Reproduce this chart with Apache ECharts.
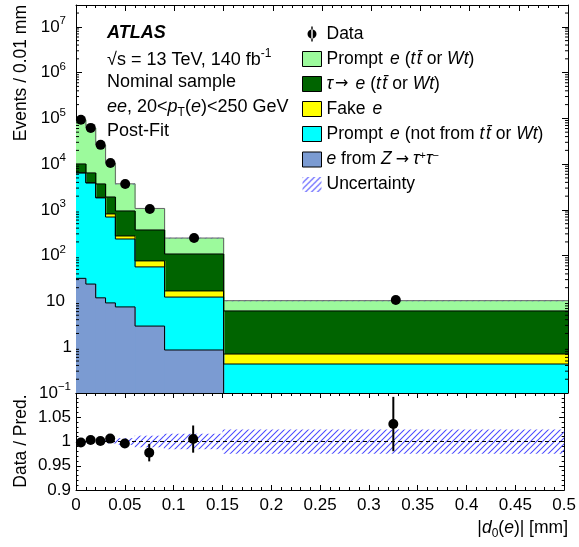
<!DOCTYPE html>
<html><head><meta charset="utf-8">
<script src="https://cdn.jsdelivr.net/npm/echarts@6/dist/echarts.min.js"></script>
<style>html,body{margin:0;padding:0;background:#fff}#c{width:579px;height:547px}</style>
</head><body><div id="c"></div>
<script>
// ---------------- data ----------------
const binEdges    = [0, 0.01, 0.02, 0.03, 0.04, 0.06, 0.09, 0.15, 0.5];
const zTauTau     = [32, 24, 12, 9.3, 7.6, 2.9, 0.87, 0.06];
const promptOther = [6400, 3866, 1818, 690, 224, 54, 11.6, 0.37];
const fakeE       = [30, 30, 50, 118, 38, 20, 4.5, 0.28];
const tauToE      = [3640, 2520, 1820, 1100, 680, 288, 92, 5.5];
const promptTT    = [82900, 55360, 22600, 8630, 2770, 712, 134, 4.2];
const dataEvents  = [93000, 62000, 26400, 10600, 3700, 1050, 244, 10.8];
const ratioVals   = [0.998, 1.003, 1.001, 1.006, 0.996, 0.977, 1.005, 1.036];
const ratioErrs   = [0.003, 0.003, 0.003, 0.003, 0.008, 0.018, 0.028, 0.056];
const uncRel      = [0.003, 0.003, 0.003, 0.004, 0.007, 0.012, 0.016, 0.025];
const logMinorMult = [2, 3, 4, 5, 6, 7, 8, 9];
const logDecades   = [-1, 0, 1, 2, 3, 4, 5, 6, 7];

const Y_MIN = 0.1, Y_MAX = 3e7;
const FONT = '"Liberation Sans", Arial, Helvetica, sans-serif';

// ---------------- helpers ----------------
const centers = binEdges.slice(0, -1).map((e, i) => (e + binEdges[i + 1]) / 2);
const layersBottomUp = [zTauTau, promptOther, fakeE, tauToE, promptTT];
const cum = [];
layersBottomUp.forEach((arr, k) => {
  cum.push(arr.map((v, i) => v + (k > 0 ? cum[k - 1][i] : 0)));
});
const total = cum[cum.length - 1];
const lastBin = binEdges.length - 2;

function makeHatch() {
  const s = 6;
  const c = document.createElement('canvas'); c.width = s; c.height = s;
  const g = c.getContext('2d');
  g.strokeStyle = '#4a4aff'; g.lineWidth = 1.05;
  g.beginPath();
  g.moveTo(0, s); g.lineTo(s, 0);
  g.moveTo(-s, s); g.lineTo(s, -s);
  g.moveTo(0, 2 * s); g.lineTo(2 * s, 0);
  g.stroke();
  return c;
}
const hatch = { image: makeHatch(), repeat: 'repeat' };

function stackSeries(name, k, color, line) {
  const arr = cum[k];
  return {
    type: 'custom', name, xAxisIndex: 0, yAxisIndex: 0, clip: true, silent: true,
    itemStyle: { color, borderColor: '#000', borderWidth: 1 },
    encode: { x: [0, 1], y: 2 },
    data: arr.map((v, i) => [binEdges[i], binEdges[i + 1], v, i > 0 ? arr[i - 1] : null, i]),
    renderItem(params, api) {
      const x0 = api.value(0), x1 = api.value(1), top = api.value(2), prev = api.value(3), idx = api.value(4);
      const a = api.coord([x0, top]), b = api.coord([x1, top]);
      const base = api.coord([x0, Y_MIN])[1];
      const kids = [];
      const extra = idx < lastBin ? 0.7 : 0;
      if (a[1] < base) kids.push({ type: 'rect', shape: { x: a[0], y: a[1], width: b[0] - a[0] + extra, height: base - a[1] }, style: { fill: color } });
      const pts = [];
      if (!isNaN(prev) && prev > 0) pts.push(api.coord([x0, prev]));
      pts.push(a, b);
      kids.push({ type: 'polyline', z2: 5, shape: { points: pts }, style: { stroke: line, lineWidth: 1, fill: null } });
      return { type: 'group', children: kids };
    }
  };
}

const C = { promptTT: '#9cfa9c', tau: '#006400', fake: '#ffff00', other: '#00ffff', z: '#7b9bd2' };
const N = {
  data: 'Data',
  promptTT: 'Prompt e (tt̄ or Wt)',
  tau: 'τ→ e (tt̄ or Wt)',
  fake: 'Fake e',
  other: 'Prompt e (not from tt̄ or Wt)',
  z: 'e from Z → τ⁺τ⁻',
  unc: 'Uncertainty'
};
const TT = '{i|t}{tb|t̄}';
const legendRich = {
  [N.data]: '{n|Data}',
  [N.promptTT]: '{n|Prompt}{e|e}{n|(}' + TT + '{n|or }{i|Wt}{n|)}',
  [N.tau]: '{i|τ}{arr|→}{e|e}{n|(}' + TT + '{n|or }{i|Wt}{n|)}',
  [N.fake]: '{n|Fake}{e|e}',
  [N.other]: '{n|Prompt}{e|e}{n|(not from }' + TT + '{n|or }{i|Wt}{n|)}',
  [N.z]: '{e0|e}{n| from }{i|Z}{arrz|→}{i|τ}{sup|+}{i|τ}{sup|−}',
  [N.unc]: '{n|Uncertainty}'
};
const LFS = 17.5;
const richBase = {
  n: { fontFamily: FONT, fontSize: LFS, color: '#000' },
  i: { fontFamily: FONT, fontSize: LFS, fontStyle: 'italic', color: '#000' },
  e: { fontFamily: FONT, fontSize: LFS, fontStyle: 'italic', color: '#000', padding: [0, 5, 0, 7] },
  e0: { fontFamily: FONT, fontSize: LFS, fontStyle: 'italic', color: '#000' },
  tb: { fontFamily: FONT, fontSize: LFS, fontStyle: 'italic', color: '#000', padding: [0, 5, 0, 1.5] },
  arr: { fontFamily: '"DejaVu Sans", sans-serif', fontSize: 16, color: '#000', padding: [0, 0, 0, 2] },
  arrz: { fontFamily: '"DejaVu Sans", sans-serif', fontSize: 16, color: '#000', padding: [0, 4, 0, 4] },
  sup: { fontFamily: FONT, fontSize: 11, color: '#000', padding: [0, 0, 8, 0] }
};

const dataIcon = 'path://M0,0h0.01v0.01h-0.01Z M18.99,14.99h0.01v0.01h-0.01Z M8.8,0h1.4v15h-1.4Z M9.5,3a4.5,4.5 0 1,0 0.001,0Z';

function minorTickSeries(xIdx, yIdx) {
  const vals = [];
  logDecades.forEach(d => logMinorMult.forEach(m => { const v = m * Math.pow(10, d); if (v < Y_MAX) vals.push([0, v]); }));
  return {
    type: 'custom', xAxisIndex: xIdx, yAxisIndex: yIdx, silent: true, clip: false, z: 5,
    data: vals, encode: { x: 0, y: 1 },
    renderItem(params, api) {
      const p = api.coord([0, api.value(1)]);
      const r = api.coord([0.5, api.value(1)]);
      return { type: 'group', children: [
        { type: 'line', shape: { x1: p[0], y1: p[1], x2: p[0] + 3, y2: p[1] }, style: { stroke: '#000', lineWidth: 1 } },
        { type: 'line', shape: { x1: r[0], y1: r[1], x2: r[0] - 3, y2: r[1] }, style: { stroke: '#000', lineWidth: 1 } }
      ] };
    }
  };
}

function logLabel(v) {
  const l = Math.log10(v);
  const e = Math.round(l);
  if (Math.abs(l - e) > 0.01) return '';
  if (e === 0) return '{one|1}';
  if (e === 1) return '{ten|10}';
  if (e < 0) return '{b|10}{sneg|−' + (-e) + '}';
  return '{b|10}{s|' + e + '}';
}

const axLine = { show: true, onZero: false, lineStyle: { color: '#000', width: 1 } };
function xAx(grid, pos, labels) {
  return {
    type: 'value', gridIndex: grid, position: pos, min: 0, max: 0.5, interval: 0.05,
    axisLine: axLine,
    axisTick: { show: true, inside: true, length: grid === 0 ? 6 : 5, lineStyle: { color: '#000' } },
    minorTick: { show: true, splitNumber: 5, length: 3, lineStyle: { color: '#000' } },
    splitLine: { show: false }, minorSplitLine: { show: false },
    axisLabel: labels ? { show: true, fontFamily: FONT, fontSize: 17, color: '#000', margin: 7,
      formatter: v => String(+v.toFixed(2)) } : { show: false }
  };
}

const option = {
  animation: false,
  textStyle: { fontFamily: FONT },
  grid: [
    { left: 76, top: 5, width: 492, height: 388 },
    { left: 76, top: 393, width: 492, height: 97 }
  ],
  xAxis: [xAx(0, 'bottom', false), xAx(0, 'top', false), xAx(1, 'bottom', true), xAx(1, 'top', false)],
  yAxis: [
    { type: 'log', gridIndex: 0, position: 'left', min: Y_MIN, max: Y_MAX, logBase: 10, splitNumber: 8,
      axisLine: axLine, axisTick: { show: true, inside: true, length: 6, lineStyle: { color: '#000' } },
      splitLine: { show: false },
      axisLabel: { show: true, margin: 4, formatter: logLabel, color: '#000',
        rich: {
          b: { fontFamily: FONT, fontSize: 17, color: '#000' },
          s: { fontFamily: FONT, fontSize: 11.5, color: '#000', padding: [0, 6, 12, 0] },
          sneg: { fontFamily: FONT, fontSize: 11.5, color: '#000', padding: [0, 1, 12, 0] },
          one: { fontFamily: FONT, fontSize: 17, color: '#000' },
          ten: { fontFamily: FONT, fontSize: 17, color: '#000', padding: [0, 7, 0, 0] }
        } } },
    { type: 'log', gridIndex: 0, position: 'right', min: Y_MIN, max: Y_MAX, logBase: 10, splitNumber: 8,
      axisLine: axLine, axisTick: { show: true, inside: true, length: 6, lineStyle: { color: '#000' } },
      splitLine: { show: false }, axisLabel: { show: false } },
    { type: 'value', gridIndex: 1, position: 'left', min: 0.9, max: 1.1, interval: 0.05,
      axisLine: axLine, axisTick: { show: true, inside: true, length: 5, lineStyle: { color: '#000' } },
      minorTick: { show: true, splitNumber: 5, length: 2.5, lineStyle: { color: '#000' } },
      splitLine: { show: false },
      axisLabel: { show: true, margin: 5, fontFamily: FONT, fontSize: 17, color: '#000',
        formatter: v => (v > 1.09 ? '' : String(+v.toFixed(2))) } },
    { type: 'value', gridIndex: 1, position: 'right', min: 0.9, max: 1.1, interval: 0.05,
      axisLine: axLine, axisTick: { show: true, inside: true, length: 5, lineStyle: { color: '#000' } },
      minorTick: { show: true, splitNumber: 5, length: 2.5, lineStyle: { color: '#000' } },
      splitLine: { show: false }, axisLabel: { show: false } }
  ],
  legend: {
    orient: 'vertical', left: 302, top: 25, itemWidth: 19, itemHeight: 15, itemGap: 7, itemTextGap: 5,
    selectedMode: false, padding: 0,
    textStyle: { fontFamily: FONT, fontSize: LFS, color: '#000', rich: richBase },
    formatter: name => legendRich[name] || name,
    data: [
      { name: N.data, icon: dataIcon, itemStyle: { color: '#000', borderWidth: 0, opacity: 1 } },
      { name: N.promptTT, icon: 'rect', itemStyle: { color: C.promptTT, borderColor: '#000', borderWidth: 1 } },
      { name: N.tau, icon: 'rect', itemStyle: { color: C.tau, borderColor: '#000', borderWidth: 1 } },
      { name: N.fake, icon: 'rect', itemStyle: { color: C.fake, borderColor: '#000', borderWidth: 1 } },
      { name: N.other, icon: 'rect', itemStyle: { color: C.other, borderColor: '#000', borderWidth: 1 } },
      { name: N.z, icon: 'rect', itemStyle: { color: C.z, borderColor: '#000', borderWidth: 1 } },
      { name: N.unc, icon: 'rect', itemStyle: { color: hatch, borderWidth: 0 } }
    ]
  },
  graphic: [
    { type: 'text', x: 107, y: 33, style: { text: 'ATLAS', font: 'italic bold 18px ' + FONT, fill: '#000', align: 'left', verticalAlign: 'middle' } },
    { type: 'text', x: 107, y: 60, style: { text: '{n|√s = 13 TeV, 140 fb}{sup|-1}', fill: '#000', align: 'left', verticalAlign: 'middle',
      rich: { n: { fontFamily: FONT, fontSize: 18, lineHeight: 18 }, sup: { fontFamily: FONT, fontSize: 12, lineHeight: 18, padding: [0, 0, 12, 0] } } } },
    { type: 'text', x: 107, y: 82, style: { text: 'Nominal sample', font: '18px ' + FONT, fill: '#000', align: 'left', verticalAlign: 'middle' } },
    { type: 'text', x: 107, y: 107, style: { text: '{i|ee}{n|, 20<}{i|p}{sub|T}{n|(}{i|e}{n|)<250 GeV}', fill: '#000', align: 'left', verticalAlign: 'middle',
      rich: { n: { fontFamily: FONT, fontSize: 18, lineHeight: 18 }, i: { fontFamily: FONT, fontSize: 18, fontStyle: 'italic', lineHeight: 18 },
        sub: { fontFamily: FONT, fontSize: 12, lineHeight: 18, padding: [12, 0, 0, 0] } } } },
    { type: 'text', x: 107, y: 131, style: { text: 'Post-Fit', font: '18px ' + FONT, fill: '#000', align: 'left', verticalAlign: 'middle' } },
    { type: 'text', x: 21, y: 5, rotation: Math.PI / 2, style: { text: 'Events / 0.01 mm', font: '17.5px ' + FONT, fill: '#000', align: 'right', verticalAlign: 'middle' } },
    { type: 'text', x: 21, y: 441, rotation: Math.PI / 2, style: { text: 'Data / Pred.', font: '17.5px ' + FONT, fill: '#000', align: 'center', verticalAlign: 'middle' } },
    { type: 'text', x: 568, y: 528, style: { text: '{n||}{i|d}{sub|0}{n|(}{i|e}{n|)| [mm]}', fill: '#000', align: 'right', verticalAlign: 'middle',
      rich: { n: { fontFamily: FONT, fontSize: 17.5, lineHeight: 18 }, i: { fontFamily: FONT, fontSize: 17.5, fontStyle: 'italic', lineHeight: 18 },
        sub: { fontFamily: FONT, fontSize: 12, lineHeight: 18, padding: [12, 0, 0, 0] } } } }
  ],
  series: [
    stackSeries(N.promptTT, 4, C.promptTT, '#666'),
    stackSeries(N.tau, 3, C.tau, '#000'),
    stackSeries(N.fake, 2, C.fake, '#000'),
    stackSeries(N.other, 1, C.other, '#000'),
    stackSeries(N.z, 0, C.z, '#000'),
    minorTickSeries(0, 0),
    {
      type: 'custom', name: N.unc, xAxisIndex: 0, yAxisIndex: 0, clip: true, silent: true,
      itemStyle: { color: hatch },
      encode: { x: [0, 1], y: [2, 3] },
      data: total.map((t, i) => [binEdges[i], binEdges[i + 1], t * (1 - uncRel[i]), t * (1 + uncRel[i])]),
      renderItem(params, api) {
        const a = api.coord([api.value(0), api.value(3)]), b = api.coord([api.value(1), api.value(2)]);
        return { type: 'rect', shape: { x: a[0], y: a[1], width: b[0] - a[0], height: Math.max(b[1] - a[1], 0.8) }, style: { fill: hatch } };
      }
    },
    {
      type: 'scatter', name: N.data, xAxisIndex: 0, yAxisIndex: 0, symbol: 'circle', symbolSize: 10,
      itemStyle: { color: '#000', opacity: 1 }, silent: true,
      data: centers.map((c, i) => [c, dataEvents[i]])
    },
    {
      type: 'custom', name: N.unc, xAxisIndex: 2, yAxisIndex: 2, clip: true, silent: true,
      itemStyle: { color: hatch },
      encode: { x: [0, 1], y: [2, 3] },
      data: uncRel.map((u, i) => [binEdges[i], binEdges[i + 1], 1 - u, 1 + u]),
      renderItem(params, api) {
        const a = api.coord([api.value(0), api.value(3)]), b = api.coord([api.value(1), api.value(2)]);
        return { type: 'rect', shape: { x: a[0], y: a[1], width: b[0] - a[0], height: b[1] - a[1] }, style: { fill: hatch } };
      },
      markLine: { silent: true, symbol: 'none', label: { show: false },
        lineStyle: { color: '#000', type: [4, 3], width: 1.2 },
        data: [{ yAxis: 1 }] }
    },
    {
      type: 'custom', xAxisIndex: 2, yAxisIndex: 2, clip: true, silent: true,
      encode: { x: 0, y: [1, 2] },
      data: centers.map((c, i) => [c, ratioVals[i] - ratioErrs[i], ratioVals[i] + ratioErrs[i]]),
      renderItem(params, api) {
        const a = api.coord([api.value(0), api.value(1)]), b = api.coord([api.value(0), api.value(2)]);
        return { type: 'line', shape: { x1: a[0], y1: a[1], x2: b[0], y2: b[1] }, style: { stroke: '#000', lineWidth: 2 } };
      }
    },
    {
      type: 'scatter', xAxisIndex: 2, yAxisIndex: 2, symbol: 'circle', symbolSize: 10, silent: true,
      itemStyle: { color: '#000', opacity: 1 },
      data: centers.map((c, i) => [c, ratioVals[i]])
    }
  ]
};
const chart = echarts.init(document.getElementById('c'));
chart.setOption(option);
</script></body></html>
